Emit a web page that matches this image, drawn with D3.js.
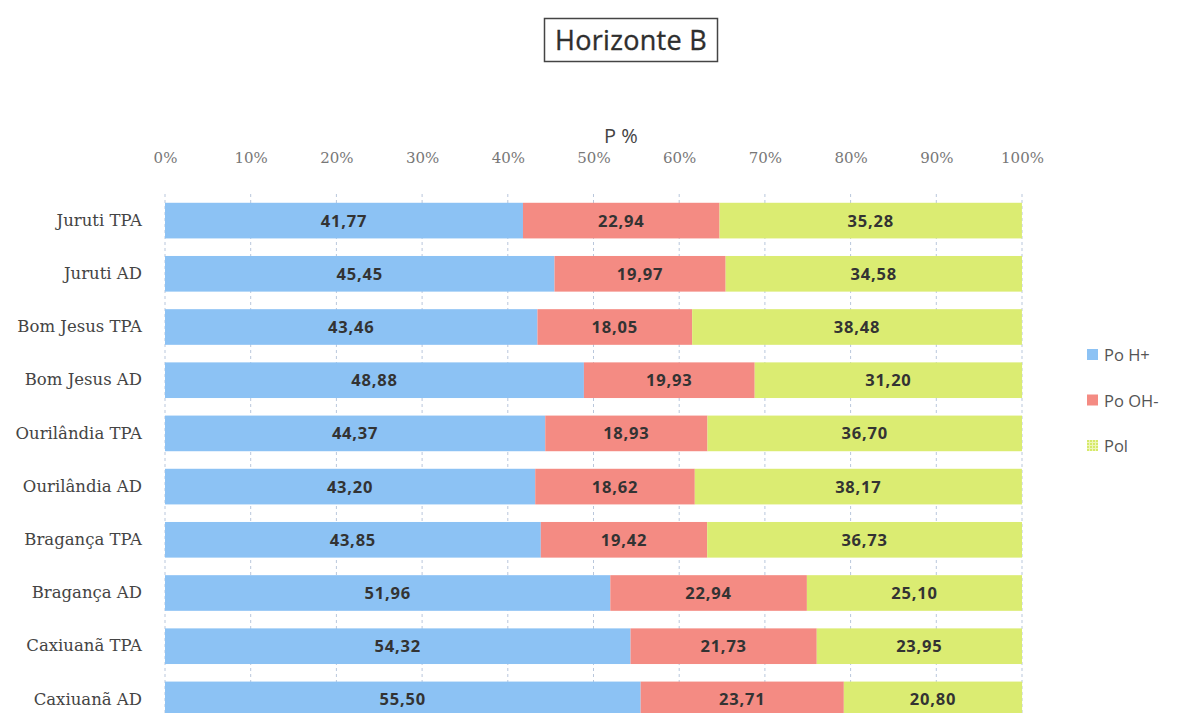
<!DOCTYPE html>
<html>
<head>
<meta charset="utf-8">
<script src="https://cdn.jsdelivr.net/npm/d3@7"></script>
<style>
  html, body { margin: 0; padding: 0; background: #fff; }
  svg { display: block; }
</style>
</head>
<body>
<svg id="chart" width="1180" height="713"></svg>
<script>
// Sites / soil types (top to bottom)
const categories = [
  "Juruti TPA", "Juruti AD", "Bom Jesus TPA", "Bom Jesus AD",
  "Ourilândia TPA", "Ourilândia AD", "Bragança TPA", "Bragança AD",
  "Caxiuanã TPA", "Caxiuanã AD"
];
const seriesNames = ["Po H+", "Po OH-", "Pol"];
const poH  = [41.77, 45.45, 43.46, 48.88, 44.37, 43.20, 43.85, 51.96, 54.32, 55.50];
const poOH = [22.94, 19.97, 18.05, 19.93, 18.93, 18.62, 19.42, 22.94, 21.73, 23.71];
const pol  = [35.28, 34.58, 38.48, 31.20, 36.70, 38.17, 36.73, 25.10, 23.95, 20.80];
const tickValues = [0, 10, 20, 30, 40, 50, 60, 70, 80, 90, 100];
const colors = ["#8cc2f4", "#f48b83", "#dbec72"];

const svg = d3.select("#chart");
const plotLeft = 165, plotRight = 1022, plotTop = 194, rowStep = 53.2;

const x = d3.scaleLinear().domain([0, 100]).range([plotLeft, plotRight]);
const y = d3.scaleBand().domain(categories)
  .range([plotTop, plotTop + rowStep * categories.length]).paddingInner(0.33).paddingOuter(0.165);

// Speckled fill for the third legend key
const defs = svg.append("defs");
const pat = defs.append("pattern").attr("id", "speckle").attr("patternUnits", "userSpaceOnUse")
  .attr("width", 3).attr("height", 3);
pat.append("rect").attr("width", 3).attr("height", 3).attr("fill", "#eef6b8");
pat.append("rect").attr("width", 2).attr("height", 2).attr("fill", "#d6e96a");

// Title box
const title = svg.append("g");
title.append("rect").attr("x", 544.5).attr("y", 18.5).attr("width", 173).attr("height", 43)
  .attr("fill", "#fff").attr("stroke", "#444").attr("stroke-width", 1.5);
title.append("text").attr("x", 631).attr("y", 50).attr("text-anchor", "middle")
  .attr("font-family", "Open Sans, sans-serif").attr("font-size", 27).attr("fill", "#2e2e2e")
  .attr("letter-spacing", 0.3).attr("stroke", "#2e2e2e").attr("stroke-width", 0.35)
  .text("Horizonte B");

// Axis title
svg.append("text").attr("x", 621).attr("y", 143).attr("text-anchor", "middle")
  .attr("font-family", "Open Sans, sans-serif").attr("font-size", 20).attr("fill", "#444")
  .text("P %");

// Dashed vertical gridlines
svg.append("g").selectAll("line").data(tickValues).join("line")
  .attr("x1", d => x(d)).attr("x2", d => x(d))
  .attr("y1", plotTop).attr("y2", 713)
  .attr("stroke", "#b9c7dc").attr("stroke-width", 1).attr("stroke-dasharray", "3,3");

// Top axis with percentage labels
const xAxis = d3.axisTop(x).tickValues(tickValues).tickFormat(d => d + "%").tickSize(0).tickPadding(0);
const ax = svg.append("g").attr("transform", "translate(0,163)").call(xAxis);
ax.select(".domain").remove();
ax.selectAll("text").attr("font-family", "DejaVu Serif, serif").attr("font-size", 15)
  .attr("fill", "#777");

// Category labels
const yAxis = d3.axisLeft(y).tickSize(0).tickPadding(0);
const ay = svg.append("g").attr("transform", "translate(142,0)").call(yAxis);
ay.select(".domain").remove();
ay.selectAll("text").attr("font-family", "DejaVu Serif, serif").attr("font-size", 16.5)
  .attr("fill", "#444");

// Stacked rows
const rows = categories.map((c, i) => ({ cat: c, vals: [poH[i], poOH[i], pol[i]] }));
const stack = d3.stack().keys([0, 1, 2]).value((d, k) => d.vals[k]);
const stacked = stack(rows);

const groups = svg.append("g").selectAll("g").data(stacked).join("g")
  .attr("fill", (d, i) => colors[i]);
groups.selectAll("rect").data(d => d).join("rect")
  .attr("x", d => x(d[0]))
  .attr("y", d => y(d.data.cat))
  .attr("width", d => x(d[1]) - x(d[0]))
  .attr("height", y.bandwidth());

// Value labels centred in each segment
const fmt = v => v.toFixed(2).replace(".", ",");
svg.append("g").selectAll("g").data(stacked).join("g")
  .selectAll("text").data((s, k) => s.map(d => ({ d, k }))).join("text")
  .attr("x", o => x((o.d[0] + o.d[1]) / 2))
  .attr("y", o => y(o.d.data.cat) + y.bandwidth() / 2 + 6)
  .attr("text-anchor", "middle")
  .attr("font-family", "Open Sans, sans-serif").attr("font-weight", "bold")
  .attr("font-size", 16.5).attr("letter-spacing", 0.8).attr("fill", "#333")
  .text(o => fmt(o.d.data.vals[o.k]));

// Legend
const legend = svg.append("g").selectAll("g").data(seriesNames).join("g")
  .attr("transform", (d, i) => `translate(1087,${355 + i * 45.5})`);
legend.append("rect").attr("x", 0).attr("y", -6).attr("width", 11).attr("height", 11)
  .attr("fill", (d, i) => i === 2 ? "url(#speckle)" : colors[i]);
legend.append("text").attr("x", 17).attr("y", 6)
  .attr("font-family", "Open Sans, sans-serif").attr("font-size", 16.5).attr("fill", "#555")
  .text(d => d);
</script>
</body>
</html>
